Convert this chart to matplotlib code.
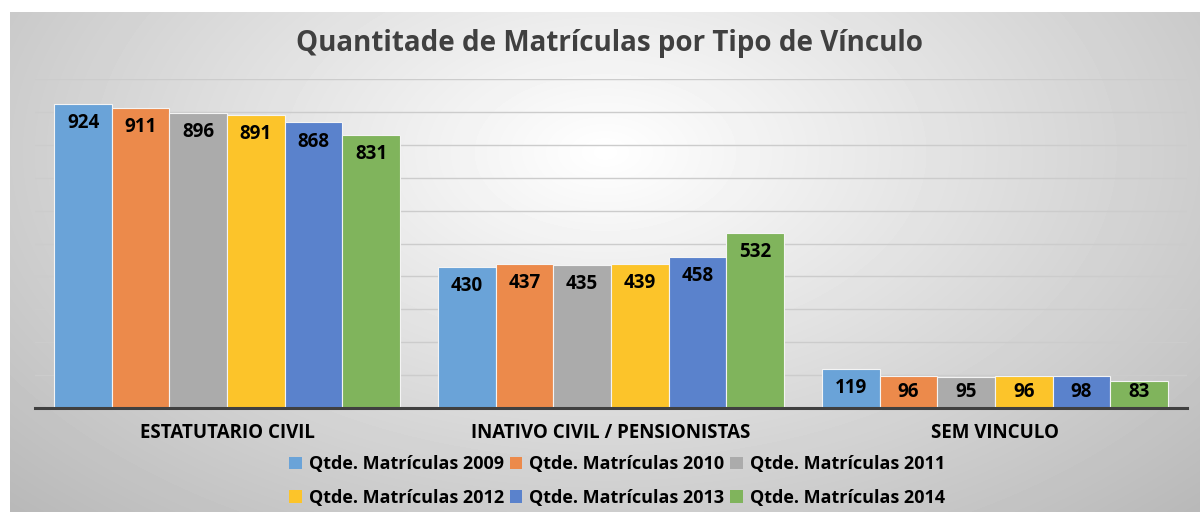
import numpy as np
import matplotlib
matplotlib.use("Agg")
import matplotlib.pyplot as plt
from matplotlib.patches import Patch

categories = ["ESTATUTARIO CIVIL", "INATIVO CIVIL / PENSIONISTAS", "SEM VINCULO"]
series_names = ["Qtde. Matrículas 2009", "Qtde. Matrículas 2010", "Qtde. Matrículas 2011",
                "Qtde. Matrículas 2012", "Qtde. Matrículas 2013", "Qtde. Matrículas 2014"]
v2009 = [924, 430, 119]
v2010 = [911, 437, 96]
v2011 = [896, 435, 95]
v2012 = [891, 439, 96]
v2013 = [868, 458, 98]
v2014 = [831, 532, 83]
values = [v2009, v2010, v2011, v2012, v2013, v2014]
colors = ["#6aa3d8", "#ec8a4b", "#ababab", "#fcc42a", "#5a82cc", "#80b45c"]
title = "Quantitade de Matrículas por Tipo de Vínculo"

FONT = ["Open Sans", "DejaVu Sans"]
plt.rcParams['font.family'] = FONT

W, H = 1200, 512
fig = plt.figure(figsize=(W / 100, H / 100), dpi=100)
fig.patch.set_facecolor("white")

# background radial gradient in chart frame
bg = fig.add_axes([10 / W, 0, 1 - 10 / W, 1 - 12 / H], zorder=-10)
yy, xx = np.mgrid[0:500, 0:1190]
cx, cy = 595, 140
r = np.sqrt(((xx - cx) / 700.0) ** 2 + ((yy - cy) / 420.0) ** 2)
val = 1.0 - 0.23 * np.clip(r, 0, 1.2)
bg.imshow(val, cmap="gray", vmin=0, vmax=1, aspect="auto", interpolation="bilinear")
bg.set_axis_off()

ax = fig.add_axes([35 / W, 1 - 408 / H, (1187 - 35) / W, (408 - 79) / H])
ax.patch.set_alpha(0)
n = len(values)
x = np.arange(len(categories))
bw = 0.9 / n
for i, (vals, c) in enumerate(zip(values, colors)):
    pos = x - 0.45 + bw * (i + 0.5)
    bars = ax.bar(pos, vals, width=bw, color=c, edgecolor="#f4f4f4", linewidth=0.8, zorder=3)
    for b, v in zip(bars, vals):
        ly = max(v - 58, 49)
        ax.text(b.get_x() + b.get_width() / 2, ly, str(v), ha="center", va="center",
                fontsize=13.5, fontweight="bold", color="black", zorder=4)

ax.set_xlim(-0.5, len(categories) - 0.5)
ax.set_ylim(0, 1000)
ax.set_yticks(np.arange(0, 1001, 100))
ax.set_yticklabels([])
ax.tick_params(axis="y", length=0)
ax.tick_params(axis="x", length=0, pad=11)
ax.set_xticks(x)
ax.set_xticklabels(categories, fontsize=13.5, fontweight="bold", color="black")
ax.grid(axis="y", color="#cccccc", linewidth=1, zorder=0)
for s in ["top", "left", "right"]:
    ax.spines[s].set_visible(False)
ax.spines["bottom"].set_color("#404040")
ax.spines["bottom"].set_linewidth(2.2)
ax.spines["bottom"].set_zorder(5)

fig.text(610 / W, 1 - 43 / H, title, ha="center", va="center", fontsize=20,
         fontweight="bold", color="#404040")

handles = [Patch(facecolor=c, edgecolor="none") for c in colors]
order = [0, 3, 1, 4, 2, 5]
fig.legend([handles[k] for k in order], [series_names[k] for k in order],
           ncol=3, loc="center", bbox_to_anchor=(617 / W, 1 - 481 / H),
           frameon=False, prop={"weight": "bold", "size": 13},
           handlelength=0.7, handleheight=0.7, handletextpad=0.4,
           columnspacing=0.3, labelspacing=0.85)

fig.savefig("out.png", dpi=100)
